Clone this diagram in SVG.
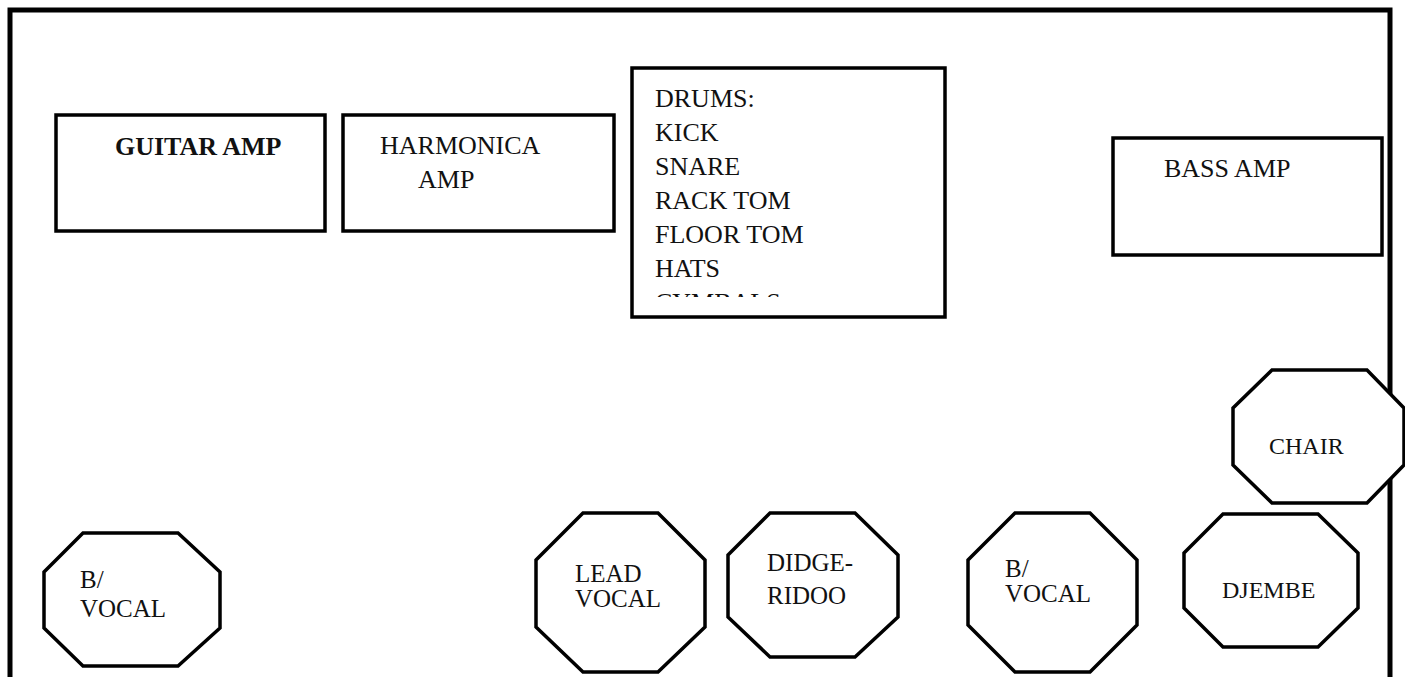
<svg xmlns="http://www.w3.org/2000/svg" width="1405" height="677" viewBox="0 0 1405 677">
<style>
.box{fill:#fff;stroke:#000;stroke-width:3.5;stroke-linejoin:miter}
.oct{fill:#fff;stroke:#000;stroke-width:3.5;stroke-linejoin:miter}
.t{font-family:"Liberation Serif","Times New Roman",serif;font-size:26px;fill:#111}
.s{font-size:24px}
.v{font-size:25px}
.b{font-weight:bold}
</style>
<defs>
<clipPath id="drumclip"><rect x="632" y="68" width="313" height="229"/></clipPath>
</defs>
<rect x="0" y="0" width="1405" height="677" fill="#fff"/>
<g id="stage">
<path d="M10,680 V10 H1390 V680" fill="none" stroke="#000" stroke-width="5"/>
</g>
<g id="guitar-amp">
<rect class="box" x="56" y="115" width="269" height="116"/>
<text class="t b" x="115" y="155">GUITAR AMP</text>
</g>
<g id="harmonica-amp">
<rect class="box" x="343" y="115" width="271" height="116"/>
<text class="t" x="380" y="154">HARMONICA</text>
<text class="t" x="418" y="188">AMP</text>
</g>
<g id="drums">
<rect class="box" x="632" y="68" width="313" height="249"/>
<g clip-path="url(#drumclip)">
<text class="t" x="655" y="107">DRUMS:</text>
<text class="t" x="655" y="141">KICK</text>
<text class="t" x="655" y="175">SNARE</text>
<text class="t" x="655" y="209">RACK TOM</text>
<text class="t" x="655" y="243">FLOOR TOM</text>
<text class="t" x="655" y="277">HATS</text>
<text class="t" x="655" y="311">CYMBALS</text>
</g>
</g>
<g id="bass-amp">
<rect class="box" x="1113" y="138" width="269" height="117"/>
<text class="t" x="1164" y="177">BASS AMP</text>
</g>
<g id="chair">
<polygon class="oct" points="1272,370 1367,370 1404,408 1404,465 1367,503 1272,503 1233,465 1233,408"/>
<text class="t s" x="1269" y="454">CHAIR</text>
</g>
<g id="djembe">
<polygon class="oct" points="1223,514 1318,514 1358,553 1358,608 1318,647 1223,647 1184,608 1184,553"/>
<text class="t s" x="1222" y="598">DJEMBE</text>
</g>
<g id="bvocal-left">
<polygon class="oct" points="83,533 178,533 220,572 220,628 178,666 83,666 44,628 44,572"/>
<text class="t v" x="80" y="588">B/</text>
<text class="t v" x="80" y="617">VOCAL</text>
</g>
<g id="lead-vocal">
<polygon class="oct" points="583,513 658,513 705,560 705,627 658,672 583,672 536,627 536,560"/>
<text class="t v" x="575" y="582">LEAD</text>
<text class="t v" x="575" y="607">VOCAL</text>
</g>
<g id="didgeridoo">
<polygon class="oct" points="770,513 855,513 898,555 898,617 855,657 770,657 728,617 728,555"/>
<text class="t v" x="767" y="571">DIDGE-</text>
<text class="t v" x="767" y="604">RIDOO</text>
</g>
<g id="bvocal-right">
<polygon class="oct" points="1015,513 1090,513 1137,560 1137,625 1090,672 1015,672 968,625 968,560"/>
<text class="t v" x="1005" y="577">B/</text>
<text class="t v" x="1005" y="602">VOCAL</text>
</g>
<g id="connectors"></g>
</svg>
